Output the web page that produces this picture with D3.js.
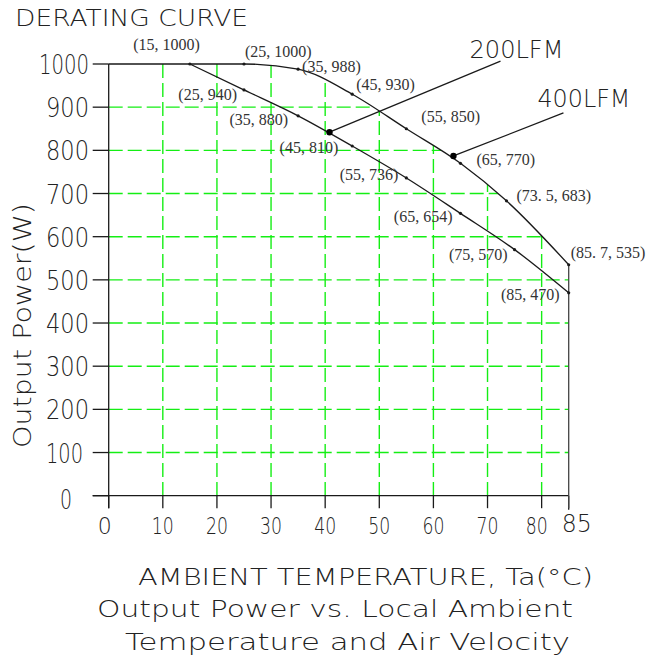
<!DOCTYPE html>
<html>
<head>
<meta charset="utf-8">
<script src="https://cdn.jsdelivr.net/npm/d3@7"></script>
<style>
  body { margin: 0; background: #fff; }
  svg { display: block; }
  .cad { font-family: "DejaVu Sans", "Liberation Sans", sans-serif; font-weight: 200; fill: #222; }
  .pt { font-family: "Liberation Serif", "DejaVu Serif", serif; font-size: 16px; fill: #333; }
</style>
</head>
<body>
<svg id="chart" width="649" height="665"></svg>
<script>
// derating curve data (temperature in C, power in W)
const tempTicks = [0, 10, 20, 30, 40, 50, 60, 70, 80, 85];
const powerTicks = [0, 100, 200, 300, 400, 500, 600, 700, 800, 900, 1000];

// 400LFM (upper curve)
const lfm400 = [
    {t: 0, p: 1000}, {t: 25, p: 1000}, {t: 35, p: 988}, {t: 45, p: 930},
    {t: 55, p: 850}, {t: 65, p: 770}, {t: 73.5, p: 683}, {t: 85.7, p: 535}
];
const lfm400Labels = ["", "(25, 1000)", "(35, 988)", "(45, 930)", "(55, 850)", "(65, 770)", "(73. 5, 683)", "(85. 7, 535)"];

// 200LFM (lower curve)
const lfm200 = [
    {t: 0, p: 1000}, {t: 15, p: 1000}, {t: 25, p: 940}, {t: 35, p: 880}, {t: 45, p: 810},
    {t: 55, p: 736}, {t: 65, p: 654}, {t: 75, p: 570}, {t: 85, p: 470}
];
const lfm200Labels = ["", "(15, 1000)", "(25, 940)", "(35, 880)", "(45, 810)", "(55, 736)", "(65, 654)", "(75, 570)", "(85, 470)"];

// leader callouts
const callouts = [
    {name: "200LFM", t: 40.8, p: 842},
    {name: "400LFM", t: 63.7, p: 787}
];

// label placement (pixels, relative to the point) kept apart from the data
const lfm400Offsets = [null, [1, -7, "start"], [4, 3, "start"], [4, -4, "start"], [15, -7, "start"], [16, 2, "start"], [10, 0, "start"], [2, -7, "start"]];
const lfm200Offsets = [null, [10, -14, "end"], [-7, 10, "end"], [-10, 9, "end"], [-14, 7, "end"], [-8, 2, "end"], [-8, 9, "end"], [-7, 10, "end"], [-9, 7, "end"]];
const calloutOffsets = [
    {lx: 171, ly: -71, tx: 140, ty: -74, w: 94},
    {lx: 110, ly: -43, tx: 84, ty: -49, w: 93}
];

const svg = d3.select("#chart");

const x = d3.scaleLinear().domain([0, 85]).range([108.7, 568.7]).clamp(true);
const y = d3.scaleLinear().domain([0, 1000]).range([495.7, 64]);

const ink = "#1a1a1a";
const gridColor = "#14ee14";

// clip grid to the region under the upper curve
const curve = d3.curveMonotoneX;
const area = d3.area().x(d => x(d.t)).y0(y(0)).y1(d => y(d.p)).curve(curve);
svg.append("clipPath").attr("id", "under")
    .append("path").attr("d", area(lfm400));

const gridGroup = svg.append("g").attr("clip-path", "url(#under)")
    .attr("stroke", gridColor).attr("stroke-width", 1.4).attr("stroke-dasharray", "14,5");

gridGroup.selectAll(".vg").data(tempTicks.filter(d => d > 0 && d < 85)).join("line")
    .attr("x1", d => x(d)).attr("x2", d => x(d))
    .attr("y1", y(1000)).attr("y2", y(0));
gridGroup.selectAll(".hg").data(powerTicks.filter(d => d > 0 && d < 1000)).join("line")
    .attr("x1", x(0)).attr("x2", x(85))
    .attr("y1", d => y(d)).attr("y2", d => y(d));

// axes (drawn by hand, CAD style)
const axisGroup = svg.append("g").attr("stroke", ink).attr("stroke-width", 1.3);
axisGroup.append("line").attr("x1", x(0)).attr("x2", x(0)).attr("y1", y(1000)).attr("y2", y(0) + 12.5);
axisGroup.append("line").attr("x1", x(0) - 16).attr("x2", x(85)).attr("y1", y(0)).attr("y2", y(0));
axisGroup.selectAll(".yt").data(powerTicks).join("line")
    .attr("x1", x(0) - 16).attr("x2", x(0))
    .attr("y1", d => y(d)).attr("y2", d => y(d));
axisGroup.selectAll(".xt").data(tempTicks).join("line")
    .attr("x1", d => x(d)).attr("x2", d => x(d))
    .attr("y1", y(0)).attr("y2", d => y(0) + (d === 85 ? 14 : 12.5));
// right edge at 85C
axisGroup.append("line").attr("stroke", "#444")
    .attr("x1", x(85)).attr("x2", x(85))
    .attr("y1", y(535)).attr("y2", y(0) + 12.5);

// y tick labels
const yLabelRight = {0: 72, 100: 83};
const yLabelWidth = {0: 12, 1000: 50};
svg.selectAll(".ylab").data(powerTicks).join("text")
    .attr("class", "cad")
    .attr("text-anchor", "end")
    .attr("x", d => yLabelRight[d] !== undefined ? yLabelRight[d] : 89)
    .attr("y", d => y(d) + (d === 0 ? 13 : 10))
    .attr("font-size", 26)
    .attr("textLength", d => yLabelWidth[d] !== undefined ? yLabelWidth[d] : (d === 100 ? 37 : 43))
    .attr("lengthAdjust", "spacingAndGlyphs")
    .text(d => d);

// x tick labels
const xLabelShift = {0: -4, 80: -5, 85: 8};
svg.selectAll(".xlab").data(tempTicks).join("text")
    .attr("class", "cad")
    .attr("text-anchor", "middle")
    .attr("x", d => x(d) + (xLabelShift[d] || 0))
    .attr("y", d => d === 85 ? 532 : 534)
    .attr("font-size", d => d === 85 ? 24 : 23)
    .attr("textLength", d => d === 0 ? 14 : (d === 85 ? 30 : 22))
    .attr("lengthAdjust", "spacingAndGlyphs")
    .text(d => d);

// curves: upper one includes the flat run from the axis, lower one breaks sharply at 15C
const line = d3.line().x(d => x(d.t)).y(d => y(d.p)).curve(curve);
[lfm400, lfm200.slice(1)].forEach(series => {
    svg.append("path").attr("d", line(series))
        .attr("fill", "none").attr("stroke", ink).attr("stroke-width", 1.3);
});

// points and labels
function drawPoints(series, labels, offsets) {
    const pts = series.map((d, i) => ({d, label: labels[i], off: offsets[i]})).filter(e => e.label);
    svg.selectAll(null).data(pts).join("circle")
        .attr("cx", e => x(e.d.t)).attr("cy", e => y(e.d.p)).attr("r", 1.6).attr("fill", ink);
    svg.selectAll(null).data(pts).join("text")
        .attr("class", "pt")
        .attr("x", e => x(e.d.t) + e.off[0])
        .attr("y", e => y(e.d.p) + e.off[1])
        .attr("text-anchor", e => e.off[2])
        .text(e => e.label);
}
drawPoints(lfm400, lfm400Labels, lfm400Offsets);
drawPoints(lfm200, lfm200Labels, lfm200Offsets);

// callouts
callouts.forEach((c, i) => {
    const o = calloutOffsets[i];
    const cx = x(c.t), cy = y(c.p);
    svg.append("line").attr("x1", cx).attr("y1", cy).attr("x2", cx + o.lx).attr("y2", cy + o.ly)
        .attr("stroke", ink).attr("stroke-width", 1.3);
    svg.append("circle").attr("cx", cx).attr("cy", cy).attr("r", 3.2).attr("fill", "#000");
    svg.append("text").attr("class", "cad")
        .attr("x", cx + o.tx).attr("y", cy + o.ty)
        .attr("font-size", 24)
        .attr("textLength", o.w).attr("lengthAdjust", "spacingAndGlyphs")
        .text(c.name);
});

// titles
svg.append("text").attr("class", "cad").attr("x", 15).attr("y", 26).attr("font-size", 23)
    .attr("textLength", 233).attr("lengthAdjust", "spacingAndGlyphs").text("DERATING CURVE");
svg.append("text").attr("class", "cad")
    .attr("transform", "translate(31,325.5) rotate(-90)")
    .attr("text-anchor", "middle").attr("font-size", 24)
    .attr("textLength", 245).attr("lengthAdjust", "spacingAndGlyphs").text("Output Power(W)");
svg.append("text").attr("class", "cad").attr("x", 138).attr("y", 585).attr("font-size", 23)
    .attr("textLength", 455).attr("lengthAdjust", "spacingAndGlyphs").text("AMBIENT TEMPERATURE, Ta(°C)");
svg.append("text").attr("class", "cad").attr("x", 97).attr("y", 617).attr("font-size", 23)
    .attr("textLength", 476).attr("lengthAdjust", "spacingAndGlyphs").text("Output Power vs. Local Ambient");
svg.append("text").attr("class", "cad").attr("x", 125).attr("y", 650).attr("font-size", 23)
    .attr("textLength", 445).attr("lengthAdjust", "spacingAndGlyphs").text("Temperature and Air Velocity");
</script>
</body>
</html>
